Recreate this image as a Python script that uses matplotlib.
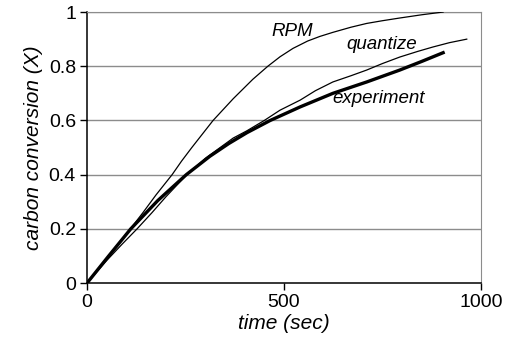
import matplotlib
matplotlib.use("Agg")
import matplotlib.pyplot as plt

# values
exp_t = [0, 55, 111, 180, 252, 312, 360, 406, 465, 541, 624, 710, 794, 850, 904]
exp_x = [0, 0.1, 0.2, 0.305, 0.4, 0.468, 0.515, 0.555, 0.6, 0.65, 0.70,
         0.742, 0.786, 0.818, 0.85]

quant_t = [0, 51, 90, 127, 165, 200, 250, 300, 371, 406, 450, 490, 541,
           580, 624, 670, 710, 750, 794, 840, 878, 920, 964]
quant_x = [0, 0.085, 0.145, 0.2, 0.26, 0.318, 0.395, 0.46, 0.535, 0.562,
           0.60, 0.638, 0.675, 0.71, 0.742, 0.765, 0.786, 0.81, 0.834, 0.855,
           0.871, 0.887, 0.90]

rpm_t = [0, 55, 110, 142, 175, 216, 240, 266, 293, 320, 371, 421, 459,
         490, 523, 560, 591, 624, 670, 710, 750, 794, 850, 904]
rpm_x = [0, 0.1, 0.2, 0.26, 0.325, 0.4, 0.45, 0.5, 0.55, 0.6, 0.68,
         0.752, 0.8, 0.835, 0.866, 0.893, 0.91, 0.925, 0.944, 0.958, 0.968,
         0.978, 0.99, 1.0]

y_ticks = [0, 0.2, 0.4, 0.6, 0.8, 1]
y_labels = ["0", "0.2", "0.4", "0.6", "0.8", "1"]
x_ticks = [0, 500, 1000]

plt.rcParams["font.family"] = ["Liberation Sans", "DejaVu Sans"]

fig = plt.figure(figsize=(5.07, 3.44), dpi=100)
ax = fig.add_axes([0.1716, 0.177, 0.777, 0.788])

# horizontal grid
for y in y_ticks[1:]:
    ax.axhline(y, color="#8c8c8c", lw=1.0, zorder=1)

ax.plot(rpm_t, rpm_x, color="black", lw=0.9, zorder=3)
ax.plot(quant_t, quant_x, color="black", lw=0.9, zorder=3)
ax.plot(exp_t, exp_x, color="black", lw=2.4, zorder=4)

ax.text(520, 0.93, "RPM", style="italic", fontsize=13.5, ha="center", va="center")
ax.text(749, 0.88, "quantize", style="italic", fontsize=13.5, ha="center", va="center")
ax.text(741, 0.68, "experiment", style="italic", fontsize=13.5, ha="center", va="center")

ax.set_xlim(0, 1000)
ax.set_ylim(0, 1)
ax.set_xticks(x_ticks)
ax.set_yticks(y_ticks)
ax.set_yticklabels(y_labels)
ax.tick_params(direction="out", length=5, width=1, labelsize=14, pad=3)
ax.spines["top"].set_color("#8c8c8c")
ax.spines["right"].set_color("#8c8c8c")
ax.spines["left"].set_linewidth(1.1)
ax.spines["bottom"].set_linewidth(1.1)

ax.set_xlabel("time (sec)", style="italic", fontsize=15, labelpad=2)
ax.set_ylabel("carbon conversion (X)", style="italic", fontsize=15, labelpad=4)

fig.savefig("out.png", dpi=100)
